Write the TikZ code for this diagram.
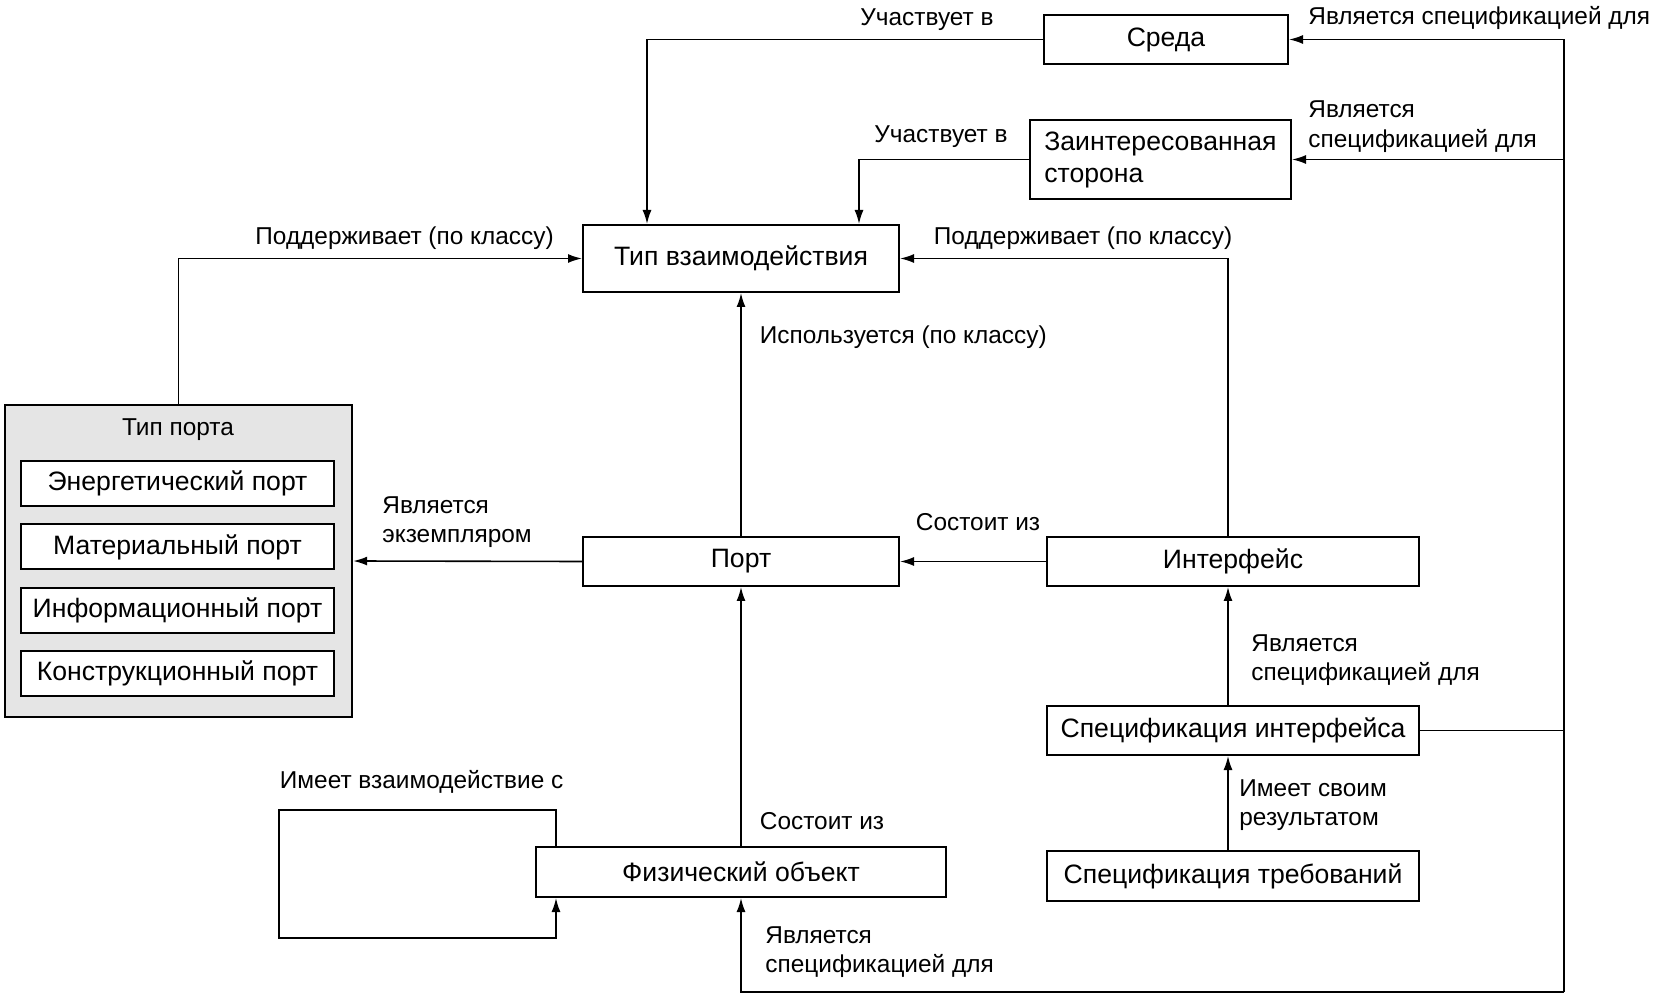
\documentclass[tikz,border=0pt]{standalone}
\usepackage{fontspec}
\setmainfont{Liberation Sans}
\usetikzlibrary{calc,arrows.meta}

\begin{document}
\begin{tikzpicture}[x=0.5pt,y=-0.5pt,
    box/.style={draw,line width=1pt,fill=white,inner sep=0pt,font=\fontsize{13.3}{16}\selectfont},
    lbl/.style={anchor=west,align=left,inner sep=0pt,font=\fontsize{12.2}{14.8}\selectfont},
    conn/.style={line width=0.8pt},
    arr/.style={conn,-{Latex[length=7pt,width=4.5pt]}}]
            \useasboundingbox (0,0) rectangle (1654,999);
            % boxes
            \node[box,minimum width=122pt,minimum height=24.5pt] (sreda) at (1166,39.5) {Среда};
            \node[box,minimum width=130.5pt,minimum height=39.5pt,align=left] (stake) at (1160.5,159.5) {Заинтересованная\\сторона};
            \node[box,minimum width=158pt,minimum height=33.5pt] (itype) at (741,258.5) {Тип взаимодействия};
            \node[box,fill=gray!20,line width=1.2pt,minimum width=173.5pt,minimum height=156pt] (ptype) at (178.5,561) {};
            \node[lbl,anchor=center] (ptypet) at (178,430) {Тип порта};
            \node[box,minimum width=156.5pt,minimum height=22.5pt] (energy) at (177.5,483.5) {Энергетический порт};
            \node[box,minimum width=156.5pt,minimum height=22.5pt] (matter) at (177.5,547) {Материальный порт};
            \node[box,minimum width=156.5pt,minimum height=22.5pt] (info) at (177.5,610.5) {Информационный порт};
            \node[box,minimum width=156.5pt,minimum height=22.5pt] (constr) at (177.5,673.5) {Конструкционный порт};
            \node[box,minimum width=158pt,minimum height=24.5pt] (port) at (741,561.5) {Порт};
            \node[box,minimum width=186pt,minimum height=24.5pt] (iface) at (1233,561.5) {Интерфейс};
            \node[box,minimum width=186pt,minimum height=24.5pt] (ispec) at (1233,730.5) {Спецификация интерфейса};
            \node[box,minimum width=186pt,minimum height=25pt] (rspec) at (1233,876) {Спецификация требований};
            \node[box,minimum width=205pt,minimum height=25pt] (phys) at (741,872) {Физический объект};
            % connectors
            \coordinate (bt) at (1564,39.5);
            \coordinate (bb) at (1564,992);
            \coordinate (ia) at ($(itype.north west)+(65,0)$);
            \coordinate (ib) at ($(itype.north west)+(277,0)$);
            \coordinate (la) at ($(phys.north west)+(21,0)$);
            \coordinate (lb) at ($(phys.south west)+(21,0)$);
            \coordinate (ic) at ($(iface.north)+(-5,0)$);
            \coordinate (id) at ($(iface.south)+(-5,0)$);
            \coordinate (ie) at ($(ispec.north)+(-5,0)$);
            \coordinate (if) at ($(ispec.south)+(-5,0)$);
            \coordinate (ig) at ($(rspec.north)+(-5,0)$);
            \draw[arr] (bb) -- (bt) -- (sreda.east);
            \draw[conn] (ispec.east) -- (ispec.east -| bt);
            \draw[arr] (stake.east -| bt) -- (stake.east);
            \draw[arr] (bb) -| (phys.south);
            \draw[arr] (sreda.west) -| (ia);
            \draw[arr] (stake.west) -| (ib);
            \draw[arr] (ptype.north) |- (itype.west);
            \draw[arr] (ic) |- (itype.east);
            \draw[arr] (port.north) -- (itype.south);
            \draw[arr] (iface.west) -- (port.east);
            \draw[arr] (port.west) -- (ptype.east);
            \draw[arr] (phys.north) -- (port.south);
            \draw[arr] (ie) -- (id);
            \draw[arr] (ig) -- (if);
            \draw[arr] (la) -- ++(0,-36) -- ++(-277,0) -- ++(0,128) -- ++(277,0) -- (lb);
            % labels
            \node[lbl] (l1) at (860,20) {Участвует в};
            \node[lbl] (l2) at (1308,18) {Является спецификацией для};
            \node[lbl] (l3) at (1308,126.5) {Является\\спецификацией для};
            \node[lbl] (l4) at (874,137) {Участвует в};
            \node[lbl] (l5) at (255,238) {Поддерживает (по классу)};
            \node[lbl] (l6) at (933.5,238) {Поддерживает (по классу)};
            \node[lbl] (l7) at (759.5,337.5) {Используется (по классу)};
            \node[lbl] (l8) at (382,522) {Является\\экземпляром};
            \node[lbl] (l9) at (915.5,522) {Состоит из};
            \node[lbl] (l10) at (1251,660) {Является\\спецификацией для};
            \node[lbl] (l11) at (1239,805) {Имеет своим\\результатом};
            \node[lbl] (l12) at (279.5,781.5) {Имеет взаимодействие с};
            \node[lbl] (l13) at (759.5,821.5) {Состоит из};
            \node[lbl] (l14) at (765,952) {Является\\спецификацией для};
        \end{tikzpicture}
\end{document}
